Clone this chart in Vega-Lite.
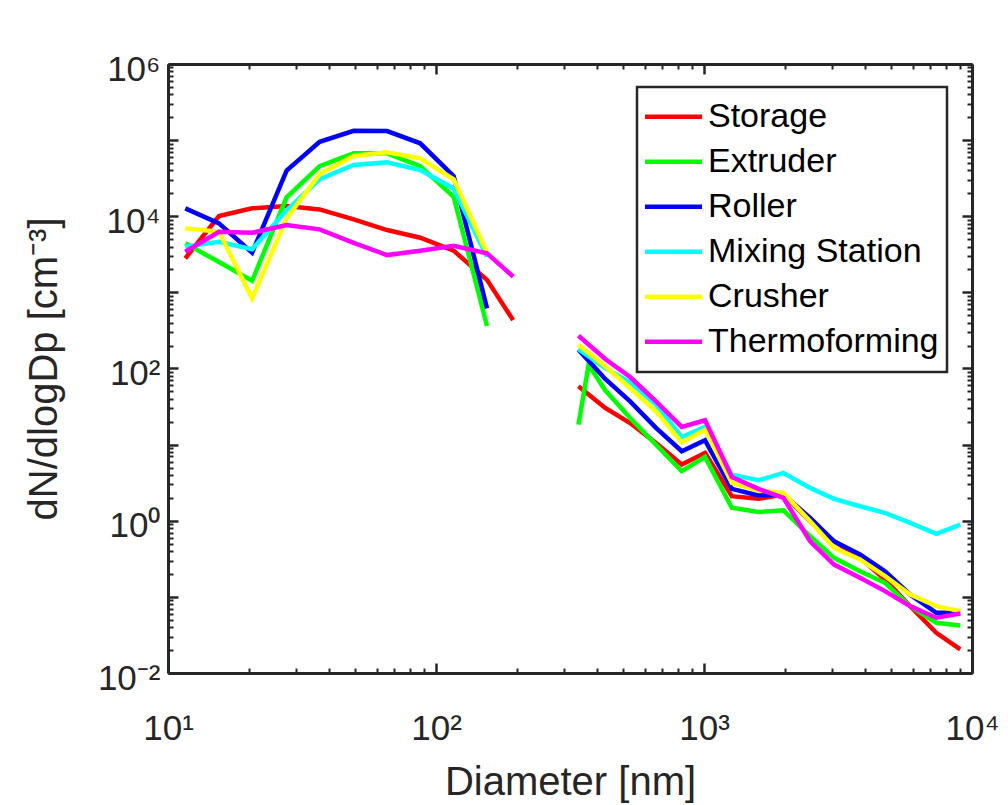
{
  "$schema": "https://vega.github.io/schema/vega-lite/v6.json",
  "width": 804,
  "height": 609,
  "autosize": "none",
  "padding": {"left": 168, "top": 64, "right": 36, "bottom": 132},
  "background": "white",
  "config": {
    "view": {"stroke": null},
    "font": "Liberation Sans",
    "axis": {
      "grid": false,
      "domainColor": "#262626",
      "domainWidth": 3,
      "tickColor": "#262626",
      "labelColor": "#262626",
      "titleColor": "#262626",
      "labelFont": "Liberation Sans",
      "titleFont": "Liberation Sans",
      "titleFontWeight": "normal",
      "labelFlush": false,
      "labelOverlap": false
    },
    "legend": {
      "strokeColor": "#262626",
      "strokeWidth": 2.5,
      "fillColor": "white"
    }
  },
  "data": {
    "values": [
      {"station": "Storage", "range": "SMPS", "diameter": 11.6, "dndlogdp": 2800},
      {"station": "Storage", "range": "SMPS", "diameter": 15.5, "dndlogdp": 10060},
      {"station": "Storage", "range": "SMPS", "diameter": 20.6, "dndlogdp": 12700},
      {"station": "Storage", "range": "SMPS", "diameter": 27.7, "dndlogdp": 13600},
      {"station": "Storage", "range": "SMPS", "diameter": 36.8, "dndlogdp": 12300},
      {"station": "Storage", "range": "SMPS", "diameter": 49.3, "dndlogdp": 9100},
      {"station": "Storage", "range": "SMPS", "diameter": 65.7, "dndlogdp": 6590},
      {"station": "Storage", "range": "SMPS", "diameter": 87.3, "dndlogdp": 5220},
      {"station": "Storage", "range": "SMPS", "diameter": 116.4, "dndlogdp": 3530},
      {"station": "Storage", "range": "SMPS", "diameter": 155, "dndlogdp": 1460},
      {"station": "Storage", "range": "SMPS", "diameter": 194, "dndlogdp": 432},
      {"station": "Storage", "range": "OPC", "diameter": 340, "dndlogdp": 58.3},
      {"station": "Storage", "range": "OPC", "diameter": 428, "dndlogdp": 30.3},
      {"station": "Storage", "range": "OPC", "diameter": 530, "dndlogdp": 19.2},
      {"station": "Storage", "range": "OPC", "diameter": 662, "dndlogdp": 10.5},
      {"station": "Storage", "range": "OPC", "diameter": 826, "dndlogdp": 5.47},
      {"station": "Storage", "range": "OPC", "diameter": 1009, "dndlogdp": 7.78},
      {"station": "Storage", "range": "OPC", "diameter": 1270, "dndlogdp": 2.10},
      {"station": "Storage", "range": "OPC", "diameter": 1596, "dndlogdp": 1.94},
      {"station": "Storage", "range": "OPC", "diameter": 1978, "dndlogdp": 2.21},
      {"station": "Storage", "range": "OPC", "diameter": 2489, "dndlogdp": 0.984},
      {"station": "Storage", "range": "OPC", "diameter": 3057, "dndlogdp": 0.538},
      {"station": "Storage", "range": "OPC", "diameter": 3820, "dndlogdp": 0.326},
      {"station": "Storage", "range": "OPC", "diameter": 4735, "dndlogdp": 0.169},
      {"station": "Storage", "range": "OPC", "diameter": 5880, "dndlogdp": 0.0755},
      {"station": "Storage", "range": "OPC", "diameter": 7360, "dndlogdp": 0.0338},
      {"station": "Storage", "range": "OPC", "diameter": 9040, "dndlogdp": 0.0204},

      {"station": "Extruder", "range": "SMPS", "diameter": 11.6, "dndlogdp": 4410},
      {"station": "Extruder", "range": "SMPS", "diameter": 15.5, "dndlogdp": 2500},
      {"station": "Extruder", "range": "SMPS", "diameter": 20.6, "dndlogdp": 1420},
      {"station": "Extruder", "range": "SMPS", "diameter": 27.7, "dndlogdp": 17700},
      {"station": "Extruder", "range": "SMPS", "diameter": 36.8, "dndlogdp": 45600},
      {"station": "Extruder", "range": "SMPS", "diameter": 49.3, "dndlogdp": 67000},
      {"station": "Extruder", "range": "SMPS", "diameter": 65.7, "dndlogdp": 67000},
      {"station": "Extruder", "range": "SMPS", "diameter": 87.3, "dndlogdp": 45600},
      {"station": "Extruder", "range": "SMPS", "diameter": 116.4, "dndlogdp": 18000},
      {"station": "Extruder", "range": "SMPS", "diameter": 155, "dndlogdp": 362},
      {"station": "Extruder", "range": "OPC", "diameter": 340, "dndlogdp": 18.3},
      {"station": "Extruder", "range": "OPC", "diameter": 371, "dndlogdp": 112},
      {"station": "Extruder", "range": "OPC", "diameter": 428, "dndlogdp": 51.7},
      {"station": "Extruder", "range": "OPC", "diameter": 530, "dndlogdp": 22.4},
      {"station": "Extruder", "range": "OPC", "diameter": 662, "dndlogdp": 10.0},
      {"station": "Extruder", "range": "OPC", "diameter": 826, "dndlogdp": 4.47},
      {"station": "Extruder", "range": "OPC", "diameter": 1009, "dndlogdp": 6.89},
      {"station": "Extruder", "range": "OPC", "diameter": 1270, "dndlogdp": 1.48},
      {"station": "Extruder", "range": "OPC", "diameter": 1596, "dndlogdp": 1.30},
      {"station": "Extruder", "range": "OPC", "diameter": 1978, "dndlogdp": 1.37},
      {"station": "Extruder", "range": "OPC", "diameter": 2489, "dndlogdp": 0.627},
      {"station": "Extruder", "range": "OPC", "diameter": 3057, "dndlogdp": 0.326},
      {"station": "Extruder", "range": "OPC", "diameter": 3820, "dndlogdp": 0.217},
      {"station": "Extruder", "range": "OPC", "diameter": 4735, "dndlogdp": 0.153},
      {"station": "Extruder", "range": "OPC", "diameter": 5880, "dndlogdp": 0.0755},
      {"station": "Extruder", "range": "OPC", "diameter": 7360, "dndlogdp": 0.0457},
      {"station": "Extruder", "range": "OPC", "diameter": 9040, "dndlogdp": 0.0422},

      {"station": "Roller", "range": "SMPS", "diameter": 11.6, "dndlogdp": 12700},
      {"station": "Roller", "range": "SMPS", "diameter": 15.5, "dndlogdp": 8070},
      {"station": "Roller", "range": "SMPS", "diameter": 20.6, "dndlogdp": 3320},
      {"station": "Roller", "range": "SMPS", "diameter": 27.7, "dndlogdp": 39700},
      {"station": "Roller", "range": "SMPS", "diameter": 36.8, "dndlogdp": 95000},
      {"station": "Roller", "range": "SMPS", "diameter": 49.3, "dndlogdp": 132500},
      {"station": "Roller", "range": "SMPS", "diameter": 65.7, "dndlogdp": 131600},
      {"station": "Roller", "range": "SMPS", "diameter": 87.3, "dndlogdp": 90800},
      {"station": "Roller", "range": "SMPS", "diameter": 116.4, "dndlogdp": 33700},
      {"station": "Roller", "range": "SMPS", "diameter": 155, "dndlogdp": 617},
      {"station": "Roller", "range": "OPC", "diameter": 340, "dndlogdp": 177},
      {"station": "Roller", "range": "OPC", "diameter": 428, "dndlogdp": 72.8},
      {"station": "Roller", "range": "OPC", "diameter": 530, "dndlogdp": 37.0},
      {"station": "Roller", "range": "OPC", "diameter": 662, "dndlogdp": 16.6},
      {"station": "Roller", "range": "OPC", "diameter": 826, "dndlogdp": 8.18},
      {"station": "Roller", "range": "OPC", "diameter": 1009, "dndlogdp": 11.4},
      {"station": "Roller", "range": "OPC", "diameter": 1270, "dndlogdp": 2.62},
      {"station": "Roller", "range": "OPC", "diameter": 1596, "dndlogdp": 2.15},
      {"station": "Roller", "range": "OPC", "diameter": 1978, "dndlogdp": 2.21},
      {"station": "Roller", "range": "OPC", "diameter": 2489, "dndlogdp": 1.09},
      {"station": "Roller", "range": "OPC", "diameter": 3057, "dndlogdp": 0.538},
      {"station": "Roller", "range": "OPC", "diameter": 3820, "dndlogdp": 0.360},
      {"station": "Roller", "range": "OPC", "diameter": 4735, "dndlogdp": 0.217},
      {"station": "Roller", "range": "OPC", "diameter": 5880, "dndlogdp": 0.107},
      {"station": "Roller", "range": "OPC", "diameter": 7360, "dndlogdp": 0.0618},
      {"station": "Roller", "range": "OPC", "diameter": 9040, "dndlogdp": 0.0618},

      {"station": "Mixing Station", "range": "SMPS", "diameter": 11.6, "dndlogdp": 3980},
      {"station": "Mixing Station", "range": "SMPS", "diameter": 15.5, "dndlogdp": 4620},
      {"station": "Mixing Station", "range": "SMPS", "diameter": 20.6, "dndlogdp": 3680},
      {"station": "Mixing Station", "range": "SMPS", "diameter": 27.7, "dndlogdp": 12000},
      {"station": "Mixing Station", "range": "SMPS", "diameter": 36.8, "dndlogdp": 30600},
      {"station": "Mixing Station", "range": "SMPS", "diameter": 49.3, "dndlogdp": 47100},
      {"station": "Mixing Station", "range": "SMPS", "diameter": 65.7, "dndlogdp": 51000},
      {"station": "Mixing Station", "range": "SMPS", "diameter": 87.3, "dndlogdp": 40400},
      {"station": "Mixing Station", "range": "SMPS", "diameter": 116.4, "dndlogdp": 23200},
      {"station": "Mixing Station", "range": "SMPS", "diameter": 155, "dndlogdp": 2940},
      {"station": "Mixing Station", "range": "OPC", "diameter": 340, "dndlogdp": 180},
      {"station": "Mixing Station", "range": "OPC", "diameter": 428, "dndlogdp": 101},
      {"station": "Mixing Station", "range": "OPC", "diameter": 530, "dndlogdp": 65.8},
      {"station": "Mixing Station", "range": "OPC", "diameter": 662, "dndlogdp": 33.5},
      {"station": "Mixing Station", "range": "OPC", "diameter": 826, "dndlogdp": 12.6},
      {"station": "Mixing Station", "range": "OPC", "diameter": 1009, "dndlogdp": 17.1},
      {"station": "Mixing Station", "range": "OPC", "diameter": 1270, "dndlogdp": 4.04},
      {"station": "Mixing Station", "range": "OPC", "diameter": 1596, "dndlogdp": 3.40},
      {"station": "Mixing Station", "range": "OPC", "diameter": 1978, "dndlogdp": 4.25},
      {"station": "Mixing Station", "range": "OPC", "diameter": 2489, "dndlogdp": 2.70},
      {"station": "Mixing Station", "range": "OPC", "diameter": 3057, "dndlogdp": 1.94},
      {"station": "Mixing Station", "range": "OPC", "diameter": 3820, "dndlogdp": 1.55},
      {"station": "Mixing Station", "range": "OPC", "diameter": 4735, "dndlogdp": 1.27},
      {"station": "Mixing Station", "range": "OPC", "diameter": 5880, "dndlogdp": 0.938},
      {"station": "Mixing Station", "range": "OPC", "diameter": 7360, "dndlogdp": 0.673},
      {"station": "Mixing Station", "range": "OPC", "diameter": 9040, "dndlogdp": 0.891},

      {"station": "Crusher", "range": "SMPS", "diameter": 11.6, "dndlogdp": 6940},
      {"station": "Crusher", "range": "SMPS", "diameter": 15.5, "dndlogdp": 6250},
      {"station": "Crusher", "range": "SMPS", "diameter": 20.6, "dndlogdp": 834},
      {"station": "Crusher", "range": "SMPS", "diameter": 27.7, "dndlogdp": 9380},
      {"station": "Crusher", "range": "SMPS", "diameter": 36.8, "dndlogdp": 35800},
      {"station": "Crusher", "range": "SMPS", "diameter": 49.3, "dndlogdp": 61800},
      {"station": "Crusher", "range": "SMPS", "diameter": 65.7, "dndlogdp": 69100},
      {"station": "Crusher", "range": "SMPS", "diameter": 87.3, "dndlogdp": 57600},
      {"station": "Crusher", "range": "SMPS", "diameter": 116.4, "dndlogdp": 30600},
      {"station": "Crusher", "range": "SMPS", "diameter": 155, "dndlogdp": 3320},
      {"station": "Crusher", "range": "OPC", "diameter": 340, "dndlogdp": 205},
      {"station": "Crusher", "range": "OPC", "diameter": 428, "dndlogdp": 107},
      {"station": "Crusher", "range": "OPC", "diameter": 530, "dndlogdp": 55.4},
      {"station": "Crusher", "range": "OPC", "diameter": 662, "dndlogdp": 27.4},
      {"station": "Crusher", "range": "OPC", "diameter": 826, "dndlogdp": 10.7},
      {"station": "Crusher", "range": "OPC", "diameter": 1009, "dndlogdp": 15.7},
      {"station": "Crusher", "range": "OPC", "diameter": 1270, "dndlogdp": 3.14},
      {"station": "Crusher", "range": "OPC", "diameter": 1596, "dndlogdp": 2.50},
      {"station": "Crusher", "range": "OPC", "diameter": 1978, "dndlogdp": 2.32},
      {"station": "Crusher", "range": "OPC", "diameter": 2489, "dndlogdp": 0.984},
      {"station": "Crusher", "range": "OPC", "diameter": 3057, "dndlogdp": 0.441},
      {"station": "Crusher", "range": "OPC", "diameter": 3820, "dndlogdp": 0.310},
      {"station": "Crusher", "range": "OPC", "diameter": 4735, "dndlogdp": 0.187},
      {"station": "Crusher", "range": "OPC", "diameter": 5880, "dndlogdp": 0.107},
      {"station": "Crusher", "range": "OPC", "diameter": 7360, "dndlogdp": 0.0755},
      {"station": "Crusher", "range": "OPC", "diameter": 9040, "dndlogdp": 0.0650},

      {"station": "Thermoforming", "range": "SMPS", "diameter": 11.6, "dndlogdp": 3420},
      {"station": "Thermoforming", "range": "SMPS", "diameter": 15.5, "dndlogdp": 6250},
      {"station": "Thermoforming", "range": "SMPS", "diameter": 20.6, "dndlogdp": 6070},
      {"station": "Thermoforming", "range": "SMPS", "diameter": 27.7, "dndlogdp": 7660},
      {"station": "Thermoforming", "range": "SMPS", "diameter": 36.8, "dndlogdp": 6730},
      {"station": "Thermoforming", "range": "SMPS", "diameter": 49.3, "dndlogdp": 4480},
      {"station": "Thermoforming", "range": "SMPS", "diameter": 65.7, "dndlogdp": 3090},
      {"station": "Thermoforming", "range": "SMPS", "diameter": 87.3, "dndlogdp": 3530},
      {"station": "Thermoforming", "range": "SMPS", "diameter": 116.4, "dndlogdp": 4100},
      {"station": "Thermoforming", "range": "SMPS", "diameter": 155, "dndlogdp": 3260},
      {"station": "Thermoforming", "range": "SMPS", "diameter": 194, "dndlogdp": 1610},
      {"station": "Thermoforming", "range": "OPC", "diameter": 340, "dndlogdp": 269},
      {"station": "Thermoforming", "range": "OPC", "diameter": 428, "dndlogdp": 133},
      {"station": "Thermoforming", "range": "OPC", "diameter": 530, "dndlogdp": 77.3},
      {"station": "Thermoforming", "range": "OPC", "diameter": 662, "dndlogdp": 37.0},
      {"station": "Thermoforming", "range": "OPC", "diameter": 826, "dndlogdp": 17.1},
      {"station": "Thermoforming", "range": "OPC", "diameter": 1009, "dndlogdp": 20.9},
      {"station": "Thermoforming", "range": "OPC", "diameter": 1270, "dndlogdp": 3.76},
      {"station": "Thermoforming", "range": "OPC", "diameter": 1596, "dndlogdp": 2.62},
      {"station": "Thermoforming", "range": "OPC", "diameter": 1978, "dndlogdp": 2.00},
      {"station": "Thermoforming", "range": "OPC", "diameter": 2489, "dndlogdp": 0.538},
      {"station": "Thermoforming", "range": "OPC", "diameter": 3057, "dndlogdp": 0.266},
      {"station": "Thermoforming", "range": "OPC", "diameter": 3820, "dndlogdp": 0.178},
      {"station": "Thermoforming", "range": "OPC", "diameter": 4735, "dndlogdp": 0.119},
      {"station": "Thermoforming", "range": "OPC", "diameter": 5880, "dndlogdp": 0.0755},
      {"station": "Thermoforming", "range": "OPC", "diameter": 7360, "dndlogdp": 0.0532},
      {"station": "Thermoforming", "range": "OPC", "diameter": 9040, "dndlogdp": 0.0605}
    ]
  },
  "layer": [
    {
      "mark": {"type": "line", "strokeWidth": 4.5},
      "encoding": {
        "x": {
          "field": "diameter", "type": "quantitative",
          "scale": {"type": "log", "domain": [10, 10000], "nice": false},
          "axis": {
            "orient": "bottom",
            "values": [10, 20, 30, 40, 50, 60, 70, 80, 90, 100, 200, 300, 400, 500, 600, 700, 800, 900, 1000, 2000, 3000, 4000, 5000, 6000, 7000, 8000, 9000, 10000],
            "tickSize": {"condition": {"test": "abs(log(datum.value)/LN10 - round(log(datum.value)/LN10)) < 0.01", "value": -10}, "value": -5},
            "tickWidth": {"condition": {"test": "abs(log(datum.value)/LN10 - round(log(datum.value)/LN10)) < 0.01", "value": 2.5}, "value": 2},
            "labelFontSize": 35, "labelPadding": 76, "labelBaseline": "alphabetic",
            "labelExpr": "abs(log(datum.value)/LN10 - round(log(datum.value)/LN10)) > 0.01 ? '' : round(log(datum.value)/LN10) == 1 ? '10¹' : round(log(datum.value)/LN10) == 2 ? '10²' : round(log(datum.value)/LN10) == 3 ? '10³' : '10⁴'",
            "title": "Diameter [nm]", "titleFontSize": 40,
            "titleY": 121, "titleBaseline": "alphabetic"
          }
        },
        "y": {
          "field": "dndlogdp", "type": "quantitative",
          "scale": {"type": "log", "domain": [0.01, 1000000], "nice": false},
          "axis": {
            "orient": "left",
            "values": [0.01, 0.02, 0.03, 0.04, 0.05, 0.06, 0.07, 0.08, 0.09, 0.1, 0.2, 0.3, 0.4, 0.5, 0.6, 0.7, 0.8, 0.9, 1, 2, 3, 4, 5, 6, 7, 8, 9, 10, 20, 30, 40, 50, 60, 70, 80, 90, 100, 200, 300, 400, 500, 600, 700, 800, 900, 1000, 2000, 3000, 4000, 5000, 6000, 7000, 8000, 9000, 10000, 20000, 30000, 40000, 50000, 60000, 70000, 80000, 90000, 100000, 200000, 300000, 400000, 500000, 600000, 700000, 800000, 900000, 1000000],
            "tickSize": {"condition": {"test": "abs(log(datum.value)/LN10 - round(log(datum.value)/LN10)) < 0.01", "value": -10}, "value": -5},
            "tickWidth": {"condition": {"test": "abs(log(datum.value)/LN10 - round(log(datum.value)/LN10)) < 0.01", "value": 2.5}, "value": 2},
            "labelFontSize": 35, "labelPadding": 18, "labelOffset": 5,
            "labelExpr": "abs(log(datum.value)/LN10 - round(log(datum.value)/LN10)) > 0.01 ? '' : round(log(datum.value)/LN10) == 6 ? '10⁶' : round(log(datum.value)/LN10) == 4 ? '10⁴' : round(log(datum.value)/LN10) == 2 ? '10²' : round(log(datum.value)/LN10) == 0 ? '10⁰' : round(log(datum.value)/LN10) == -2 ? '10⁻²' : ''",
            "title": "dN/dlogDp [cm⁻³]", "titleFontSize": 40,
            "titleX": -112, "titleBaseline": "alphabetic"
          }
        },
        "color": {
          "field": "station", "type": "nominal",
          "scale": {
            "domain": ["Storage", "Extruder", "Roller", "Mixing Station", "Crusher", "Thermoforming"],
            "range": ["#ff0000", "#00ff00", "#0000ff", "#00ffff", "#ffff00", "#ff00ff"]
          },
          "legend": {
            "orient": "none", "legendX": 469, "legendY": 23,
            "title": null,
            "symbolType": "stroke", "symbolSize": 3249, "symbolStrokeWidth": 4.5,
            "symbolOffset": -2,
            "labelFontSize": 34, "labelFont": "Liberation Sans", "labelColor": "black",
            "labelOffset": 3.5, "labelLimit": 400,
            "padding": 7.5, "rowPadding": 0, "clipHeight": 44.3
          }
        },
        "detail": {"field": "range", "type": "nominal"}
      }
    },
    {
      "mark": {"type": "point", "opacity": 0},
      "encoding": {
        "x": {
          "field": "diameter", "type": "quantitative",
          "axis": {
            "orient": "top",
            "values": [10, 20, 30, 40, 50, 60, 70, 80, 90, 100, 200, 300, 400, 500, 600, 700, 800, 900, 1000, 2000, 3000, 4000, 5000, 6000, 7000, 8000, 9000, 10000],
            "tickSize": {"condition": {"test": "abs(log(datum.value)/LN10 - round(log(datum.value)/LN10)) < 0.01", "value": -10}, "value": -5},
            "tickWidth": {"condition": {"test": "abs(log(datum.value)/LN10 - round(log(datum.value)/LN10)) < 0.01", "value": 2.5}, "value": 2},
            "labels": false, "title": null
          }
        },
        "y": {
          "field": "dndlogdp", "type": "quantitative",
          "axis": {
            "orient": "right",
            "values": [0.01, 0.02, 0.03, 0.04, 0.05, 0.06, 0.07, 0.08, 0.09, 0.1, 0.2, 0.3, 0.4, 0.5, 0.6, 0.7, 0.8, 0.9, 1, 2, 3, 4, 5, 6, 7, 8, 9, 10, 20, 30, 40, 50, 60, 70, 80, 90, 100, 200, 300, 400, 500, 600, 700, 800, 900, 1000, 2000, 3000, 4000, 5000, 6000, 7000, 8000, 9000, 10000, 20000, 30000, 40000, 50000, 60000, 70000, 80000, 90000, 100000, 200000, 300000, 400000, 500000, 600000, 700000, 800000, 900000, 1000000],
            "tickSize": {"condition": {"test": "abs(log(datum.value)/LN10 - round(log(datum.value)/LN10)) < 0.01", "value": -10}, "value": -5},
            "tickWidth": {"condition": {"test": "abs(log(datum.value)/LN10 - round(log(datum.value)/LN10)) < 0.01", "value": 2.5}, "value": 2},
            "labels": false, "title": null
          }
        }
      }
    }
  ],
  "resolve": {"axis": {"x": "independent", "y": "independent"}}
}
